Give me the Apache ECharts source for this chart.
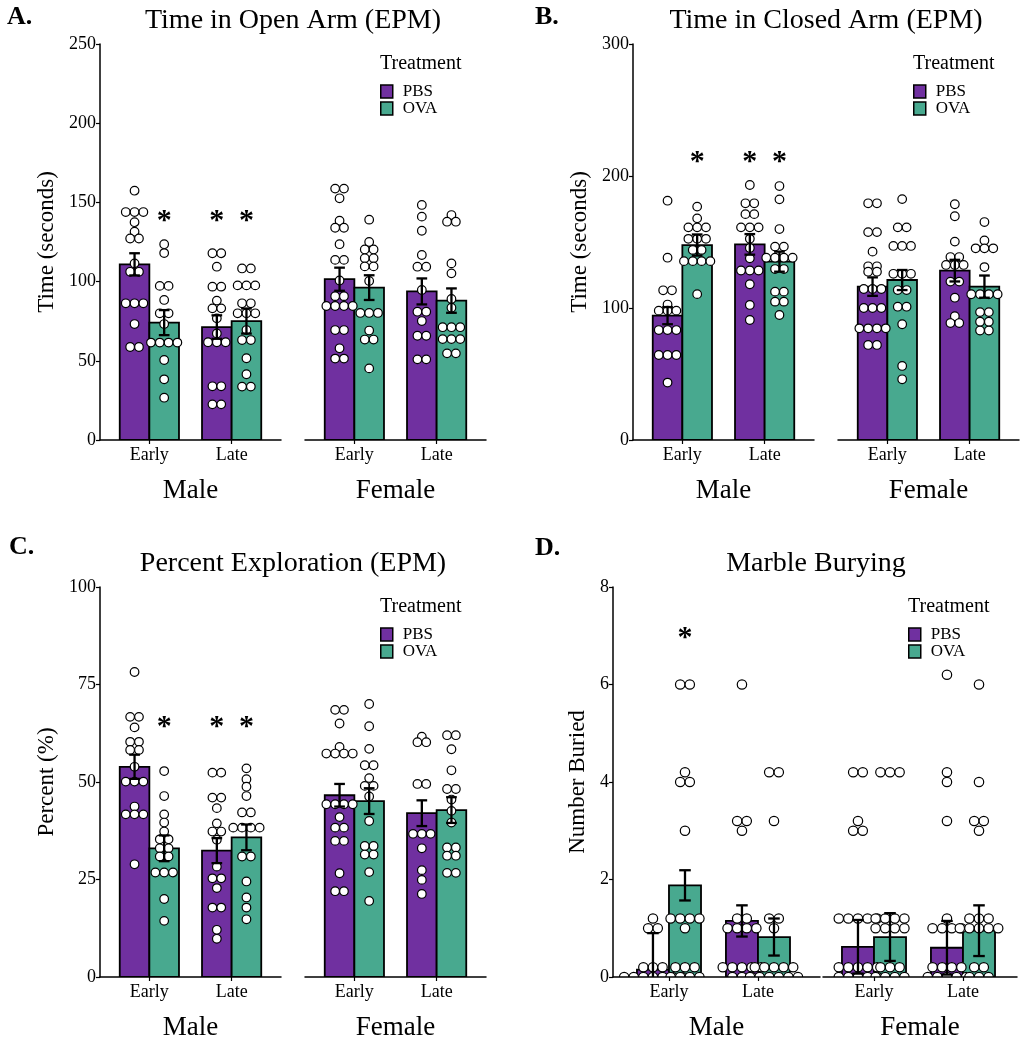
<!DOCTYPE html>
<html><head><meta charset="utf-8">
<script src="https://cdn.jsdelivr.net/npm/echarts@6/dist/echarts.min.js"></script>
<style>html,body{margin:0;padding:0;background:#fff}#c{width:1026px;height:1050px}</style>
</head><body><div id="c"></div>
<script>
// ---------- categories ----------
const timepoints = ['Early', 'Late'];
const sexes = ['Male', 'Female'];
const treatments = ['PBS', 'OVA'];
// group order in every array below: Male Early, Male Late, Female Early, Female Late

// ---------- A. Time in Open Arm (EPM) ----------
const A_yTicks = [0, 50, 100, 150, 200, 250];
const A_mean_PBS = [110.9, 71.3, 101.5, 93.8];
const A_mean_OVA = [74.1, 75.1, 96.2, 88.0];
const A_se_PBS = [7.0, 7.4, 7.3, 8.2];
const A_se_OVA = [7.9, 7.9, 7.8, 7.7];
const A_sig_PBS = [0, 1, 0, 0];
const A_sig_OVA = [1, 1, 0, 0];
const A_sigY = 142;
const A_dots_PBS = [
  [157.4, 143.9, 143.9, 143.9, 137.5, 131.5, 127.2, 127.2, 111.5, 106.2, 106.2, 86.3, 86.3, 86.3, 73.2, 58.7, 58.7],
  [117.9, 117.9, 109.4, 96.8, 96.8, 88.0, 83.1, 83.1, 76.8, 67.3, 61.7, 61.7, 61.7, 33.9, 33.9, 22.5, 22.5],
  [158.7, 158.7, 152.6, 138.4, 134.0, 134.0, 123.6, 113.7, 113.7, 100.7, 90.8, 90.8, 84.6, 84.6, 84.6, 84.6, 69.4, 69.4, 57.9, 51.4, 51.4],
  [148.4, 141.0, 132.1, 116.8, 109.4, 109.4, 94.7, 81.0, 81.0, 75.1, 65.8, 65.8, 50.9, 50.9]
];
const A_dots_OVA = [
  [123.6, 118.0, 97.3, 97.3, 88.4, 80.0, 80.0, 73.2, 61.5, 61.5, 61.5, 61.5, 50.5, 38.3, 26.7],
  [108.3, 108.3, 97.6, 97.6, 97.6, 86.3, 86.3, 80.0, 80.0, 80.0, 69.4, 63.1, 63.1, 51.6, 41.5, 33.7, 33.7],
  [139.1, 125.0, 120.3, 120.3, 114.7, 114.7, 109.6, 109.6, 100.4, 80.2, 80.2, 80.2, 69.1, 63.4, 63.4, 45.2],
  [142.0, 137.8, 137.8, 111.5, 105.2, 89.0, 83.5, 71.2, 71.2, 71.2, 63.7, 63.7, 63.7, 54.7, 54.7]
];

// ---------- B. Time in Closed Arm (EPM) ----------
const B_yTicks = [0, 100, 200, 300];
const B_mean_PBS = [94.2, 148.2, 116.2, 128.3];
const B_mean_OVA = [147.7, 135.1, 121.2, 116.2];
const B_se_PBS = [6.5, 7.8, 7.0, 8.2];
const B_se_OVA = [8.0, 7.6, 7.6, 8.4];
const B_sig_PBS = [0, 1, 0, 0];
const B_sig_OVA = [1, 1, 0, 0];
const B_sigY = 215;
const B_dots_PBS = [
  [181.3, 138.1, 113.4, 113.4, 102.6, 98.0, 98.0, 98.0, 83.3, 83.3, 83.3, 64.4, 64.4, 64.4, 43.5],
  [193.2, 179.3, 179.3, 171.1, 171.1, 161.1, 161.1, 161.1, 152.4, 145.5, 137.6, 128.4, 128.4, 128.4, 118.0, 102.3, 90.9],
  [179.3, 179.3, 157.5, 157.5, 142.7, 131.6, 131.6, 127.5, 127.5, 114.4, 114.4, 114.4, 100.0, 100.0, 100.0, 84.6, 84.6, 84.6, 84.6, 72.0, 72.0],
  [178.6, 169.5, 150.3, 138.6, 138.6, 132.6, 132.6, 132.6, 120.0, 120.0, 107.8, 93.8, 88.6, 88.6]
];
const B_dots_OVA = [
  [176.8, 167.9, 161.1, 161.1, 161.1, 152.4, 152.4, 152.4, 144.0, 144.0, 135.5, 135.5, 135.5, 135.5, 110.5],
  [192.4, 182.3, 159.8, 146.5, 146.5, 138.1, 138.1, 138.1, 138.1, 129.5, 129.5, 112.4, 112.4, 104.8, 104.8, 94.7],
  [182.5, 161.1, 161.1, 147.0, 147.0, 147.0, 125.9, 125.9, 125.9, 113.6, 113.6, 101.0, 101.0, 87.7, 56.1, 46.0],
  [165.1, 151.2, 145.2, 145.2, 145.2, 131.0, 110.4, 110.4, 110.4, 110.4, 96.9, 96.9, 89.6, 89.6, 82.9, 82.9]
];

// ---------- C. Percent Exploration (EPM) ----------
const C_yTicks = [0, 25, 50, 75, 100];
const C_mean_PBS = [53.9, 32.4, 46.6, 42.0];
const C_mean_OVA = [33.0, 35.8, 45.1, 42.8];
const C_se_PBS = [3.1, 3.2, 2.9, 3.3];
const C_se_OVA = [3.3, 3.3, 3.3, 3.3];
const C_sig_PBS = [0, 1, 0, 0];
const C_sig_OVA = [1, 1, 0, 0];
const C_sigY = 65.6;
const C_dots_PBS = [
  [78.2, 66.7, 66.7, 64.0, 60.3, 60.3, 58.2, 58.2, 53.9, 50.1, 50.1, 50.1, 43.7, 41.7, 41.7, 41.7, 28.9],
  [52.4, 52.4, 46.0, 46.0, 43.3, 39.4, 37.3, 37.3, 35.2, 28.3, 25.3, 25.3, 22.8, 17.8, 17.8, 12.1, 9.8],
  [68.5, 68.5, 65.0, 59.0, 57.3, 57.3, 57.3, 57.3, 44.3, 44.3, 44.3, 44.3, 41.0, 38.3, 38.3, 34.9, 34.9, 26.6, 22.0, 22.0],
  [61.6, 60.2, 60.2, 49.5, 49.5, 36.7, 36.7, 36.7, 33.0, 27.4, 24.9, 21.3]
];
const C_dots_OVA = [
  [52.8, 46.4, 41.7, 39.6, 37.3, 35.3, 35.3, 33.0, 33.0, 30.9, 30.9, 26.8, 26.8, 26.8, 20.0, 14.4],
  [53.5, 50.7, 48.8, 46.4, 42.2, 42.2, 38.3, 38.3, 38.3, 38.3, 30.9, 30.9, 24.5, 20.4, 17.8, 14.8],
  [70.0, 64.3, 58.5, 54.3, 54.3, 51.0, 49.0, 49.0, 46.3, 40.0, 33.6, 33.6, 31.4, 31.4, 26.9, 19.5],
  [62.0, 62.0, 58.4, 53.0, 48.2, 48.2, 45.5, 42.6, 39.6, 33.2, 33.2, 31.1, 31.1, 26.7, 26.7]
];

// ---------- D. Marble Burying ----------
const D_yTicks = [0, 2, 4, 6, 8];
const D_mean_PBS = [0.15, 1.15, 0.62, 0.60];
const D_mean_OVA = [1.88, 0.82, 0.82, 0.95];
const D_se_PBS = [0.75, 0.32, 0.55, 0.55];
const D_se_OVA = [0.31, 0.38, 0.49, 0.52];
const D_sig_PBS = [0, 0, 0, 0];
const D_sig_OVA = [1, 0, 0, 0];
const D_sigY = 7.08;
const D_dots_PBS = [
  [1.2, 1.0, 1.0, 0.2, 0.2, 0.2, 0, 0, 0, 0, 0, 0, 0],
  [6.0, 3.2, 3.2, 3.0, 1.2, 1.2, 1.0, 1.0, 1.0, 1.0, 0.2, 0.2, 0.2, 0.2, 0.2, 0, 0, 0],
  [4.2, 4.2, 3.2, 3.0, 3.0, 1.2, 1.2, 1.2, 1.2, 1.2, 0.2, 0.2, 0.2, 0.2, 0.2, 0, 0, 0, 0, 0],
  [6.2, 4.2, 4.0, 3.2, 1.2, 1.0, 1.0, 1.0, 1.0, 0.2, 0.2, 0.2, 0.2, 0, 0, 0, 0, 0]
];
const D_dots_OVA = [
  [6.0, 6.0, 4.2, 4.0, 4.0, 3.0, 1.2, 1.2, 1.2, 1.2, 1.0, 0.2, 0.2, 0.2, 0, 0, 0, 0],
  [4.2, 4.2, 3.2, 1.2, 1.2, 1.0, 0.2, 0.2, 0.2, 0.2, 0.2, 0, 0, 0, 0, 0, 0],
  [4.2, 4.2, 4.2, 1.2, 1.2, 1.2, 1.2, 1.0, 1.0, 1.0, 1.0, 0.2, 0.2, 0.2, 0, 0, 0, 0],
  [6.0, 4.0, 3.2, 3.2, 3.0, 1.2, 1.2, 1.2, 1.0, 1.0, 1.0, 1.0, 1.0, 0.2, 0.2, 0, 0, 0]
];

// ---------- styling / layout ----------
const FONT = '"Liberation Serif", "Times New Roman", serif';
const COLORS = ['#7030A0', '#48A98F'];
const OFF = 0.18;      // dodge offset (x units)
const HALF = 0.18;     // bar half width (x units)
const CAP = 0.065;     // error bar cap half width (x units)

const panels = [
  { letter: 'A.', title: 'Time in Open Arm (EPM)', yName: 'Time (seconds)', ticks: A_yTicks,
    mean: [A_mean_PBS, A_mean_OVA], se: [A_se_PBS, A_se_OVA], dots: [A_dots_PBS, A_dots_OVA],
    sig: [A_sig_PBS, A_sig_OVA], sigY: A_sigY,
    top: 44, bottom: 440, dot: 8.8,
    facets: [{ left: 100, right: 281, min: 0.4, max: 2.6 }, { left: 305, right: 486, min: 0.4, max: 2.6 }],
    letterPos: [7, 17], titlePos: [293, 21], yNamePos: 47, legend: [380, 64] },
  { letter: 'B.', title: 'Time in Closed Arm (EPM)', yName: 'Time (seconds)', ticks: B_yTicks,
    mean: [B_mean_PBS, B_mean_OVA], se: [B_se_PBS, B_se_OVA], dots: [B_dots_PBS, B_dots_OVA],
    sig: [B_sig_PBS, B_sig_OVA], sigY: B_sigY,
    top: 44, bottom: 440, dot: 8.8,
    facets: [{ left: 633, right: 814, min: 0.4, max: 2.6 }, { left: 838, right: 1019, min: 0.4, max: 2.6 }],
    letterPos: [535, 17], titlePos: [826, 21], yNamePos: 580, legend: [913, 64] },
  { letter: 'C.', title: 'Percent Exploration (EPM)', yName: 'Percent (%)', ticks: C_yTicks,
    mean: [C_mean_PBS, C_mean_OVA], se: [C_se_PBS, C_se_OVA], dots: [C_dots_PBS, C_dots_OVA],
    sig: [C_sig_PBS, C_sig_OVA], sigY: C_sigY,
    top: 587, bottom: 977, dot: 8.8,
    facets: [{ left: 100, right: 281, min: 0.4, max: 2.6 }, { left: 305, right: 486, min: 0.4, max: 2.6 }],
    letterPos: [9, 547], titlePos: [293, 564], yNamePos: 47, legend: [380, 607] },
  { letter: 'D.', title: 'Marble Burying', yName: 'Number Buried', ticks: D_yTicks,
    mean: [D_mean_PBS, D_mean_OVA], se: [D_se_PBS, D_se_OVA], dots: [D_dots_PBS, D_dots_OVA],
    sig: [D_sig_PBS, D_sig_OVA], sigY: D_sigY,
    top: 587, bottom: 977, dot: 9.6,
    facets: [{ left: 613, right: 820, min: 0.371, max: 2.697 }, { left: 823, right: 1017, min: 0.427, max: 2.607 }],
    letterPos: [535, 548], titlePos: [816, 564], yNamePos: 578, legend: [908, 607] }
];

const grid = [], xAxis = [], yAxis = [], series = [], legend = [], graphic = [];

panels.forEach((P, pi) => {
  graphic.push({ type: 'text', x: P.letterPos[0], y: P.letterPos[1],
    style: { text: P.letter, font: 'bold 26px ' + FONT, fill: '#000', align: 'left', verticalAlign: 'middle' } });
  graphic.push({ type: 'text', x: P.titlePos[0], y: P.titlePos[1],
    style: { text: P.title, font: '28px ' + FONT, fill: '#000', align: 'center', verticalAlign: 'middle' } });
  graphic.push({ type: 'text', x: P.yNamePos, y: (P.top + P.bottom) / 2, rotation: Math.PI / 2,
    style: { text: P.yName, font: '23px ' + FONT, fill: '#000', align: 'center', verticalAlign: 'middle' } });
  graphic.push({ type: 'text', x: P.legend[0], y: P.legend[1],
    style: { text: 'Treatment', font: '20px ' + FONT, fill: '#000', align: 'left', verticalAlign: 'middle' } });
  legend.push({ data: treatments, orient: 'vertical', left: P.legend[0], top: P.legend[1] + 19,
    itemWidth: 12, itemHeight: 13, itemGap: 0, icon: 'rect', padding: 0, selectedMode: false,
    itemStyle: { borderColor: '#000', borderWidth: 1.5 },
    textStyle: { fontSize: 17, fontFamily: FONT, color: '#000', lineHeight: 14, padding: [0, 0, 0, 5] } });

  P.facets.forEach((F, f) => {
    const gi = pi * 2 + f;
    grid.push({ left: F.left, top: P.top, width: F.right - F.left, height: P.bottom - P.top });
    xAxis.push({ gridIndex: gi, type: 'value', min: F.min, max: F.max, z: 10,
      axisLine: { show: true, onZero: false, lineStyle: { color: '#000', width: 1.5 } },
      axisTick: { show: true, customValues: [1, 2], length: 4, lineStyle: { color: '#000', width: 1.2 } },
      axisLabel: { customValues: [1, 2], formatter: v => timepoints[Math.round(v) - 1] || '',
        color: '#000', fontSize: 18, fontFamily: FONT, margin: 6 },
      splitLine: { show: false },
      name: sexes[f], nameLocation: 'middle', nameGap: 37,
      nameTextStyle: { fontSize: 27, fontFamily: FONT, color: '#000' } });
    const t = P.ticks;
    yAxis.push({ gridIndex: gi, type: 'value', min: t[0], max: t[t.length - 1], interval: t[1] - t[0],
      show: f === 0,
      axisLine: { show: true, lineStyle: { color: '#000', width: 1.5 } },
      axisTick: { show: true, length: 4, lineStyle: { color: '#000', width: 1.2 } },
      axisLabel: { color: '#000', fontSize: 18, fontFamily: FONT, margin: 4 },
      splitLine: { show: false } });

    // bars
    treatments.forEach((tr, ti) => {
      const data = [];
      timepoints.forEach((tp, k) => {
        const g = f * 2 + k;
        data.push([k + 1 + (ti ? OFF : -OFF), P.mean[ti][g]]);
      });
      series.push({ type: 'custom', name: tr, xAxisIndex: gi, yAxisIndex: gi, z: 2, clip: true,
        itemStyle: { color: COLORS[ti] }, data,
        renderItem: (params, api) => {
          const x = api.value(0), v = api.value(1);
          const p0 = api.coord([x - HALF, v]), p1 = api.coord([x + HALF, 0]);
          return { type: 'rect', shape: { x: p0[0], y: p0[1], width: p1[0] - p0[0], height: p1[1] - p0[1] },
            style: { fill: COLORS[ti], stroke: '#000', lineWidth: 1.8 } };
        } });
    });

    // dots (dotplot: equal values stacked side by side)
    const dotData = [];
    treatments.forEach((tr, ti) => {
      timepoints.forEach((tp, k) => {
        const g = f * 2 + k;
        const vals = P.dots[ti][g];
        const xc = k + 1 + (ti ? OFF : -OFF);
        const counts = {}, seen = {};
        vals.forEach(v => { counts[v] = (counts[v] || 0) + 1; });
        vals.forEach(v => { const n = counts[v]; const j = seen[v] || 0; seen[v] = j + 1; dotData.push([xc, v, j - (n - 1) / 2]); });
      });
    });
    const D = P.dot;
    series.push({ type: 'custom', name: 'points', xAxisIndex: gi, yAxisIndex: gi, z: 3, clip: true, data: dotData,
      renderItem: (params, api) => {
        const p = api.coord([api.value(0), api.value(1)]);
        return { type: 'circle', shape: { cx: p[0] + api.value(2) * D, cy: p[1], r: D / 2 - 0.1 },
          style: { fill: '#fff', stroke: '#000', lineWidth: 1.2 } };
      } });

    // error bars (mean ± SE)
    const errData = [];
    treatments.forEach((tr, ti) => {
      timepoints.forEach((tp, k) => {
        const g = f * 2 + k;
        const m = P.mean[ti][g], s = P.se[ti][g];
        errData.push([k + 1 + (ti ? OFF : -OFF), m - s, m + s]);
      });
    });
    series.push({ type: 'custom', name: 'sem', xAxisIndex: gi, yAxisIndex: gi, z: 4, clip: true, data: errData,
      renderItem: (params, api) => {
        const x = api.value(0), lo = api.value(1), hi = api.value(2);
        const a = api.coord([x, lo]), b = api.coord([x, hi]);
        const l1 = api.coord([x - CAP, hi]), r1 = api.coord([x + CAP, hi]);
        const l2 = api.coord([x - CAP, lo]), r2 = api.coord([x + CAP, lo]);
        const st = { stroke: '#000', lineWidth: 2.3 };
        return { type: 'group', children: [
          { type: 'line', shape: { x1: a[0], y1: a[1], x2: b[0], y2: b[1] }, style: st },
          { type: 'line', shape: { x1: l1[0], y1: l1[1], x2: r1[0], y2: r1[1] }, style: st },
          { type: 'line', shape: { x1: l2[0], y1: l2[1], x2: r2[0], y2: r2[1] }, style: st }
        ] };
      } });

    // significance asterisks
    const sigData = [];
    treatments.forEach((tr, ti) => {
      timepoints.forEach((tp, k) => {
        const g = f * 2 + k;
        if (P.sig[ti][g]) sigData.push([k + 1 + (ti ? OFF : -OFF), P.sigY]);
      });
    });
    series.push({ type: 'custom', name: 'sig', xAxisIndex: gi, yAxisIndex: gi, z: 5, clip: false, data: sigData,
      renderItem: (params, api) => {
        const p = api.coord([api.value(0), api.value(1)]);
        return { type: 'text', x: p[0], y: p[1] + 6,
          style: { text: '*', font: 'bold 30px ' + FONT, fill: '#000', align: 'center', verticalAlign: 'middle' } };
      } });
  });
});

const chart = echarts.init(document.getElementById('c'), null, { renderer: 'canvas' });
chart.setOption({ animation: false, backgroundColor: '#fff', grid, xAxis, yAxis, series, legend, graphic });
</script></body></html>
